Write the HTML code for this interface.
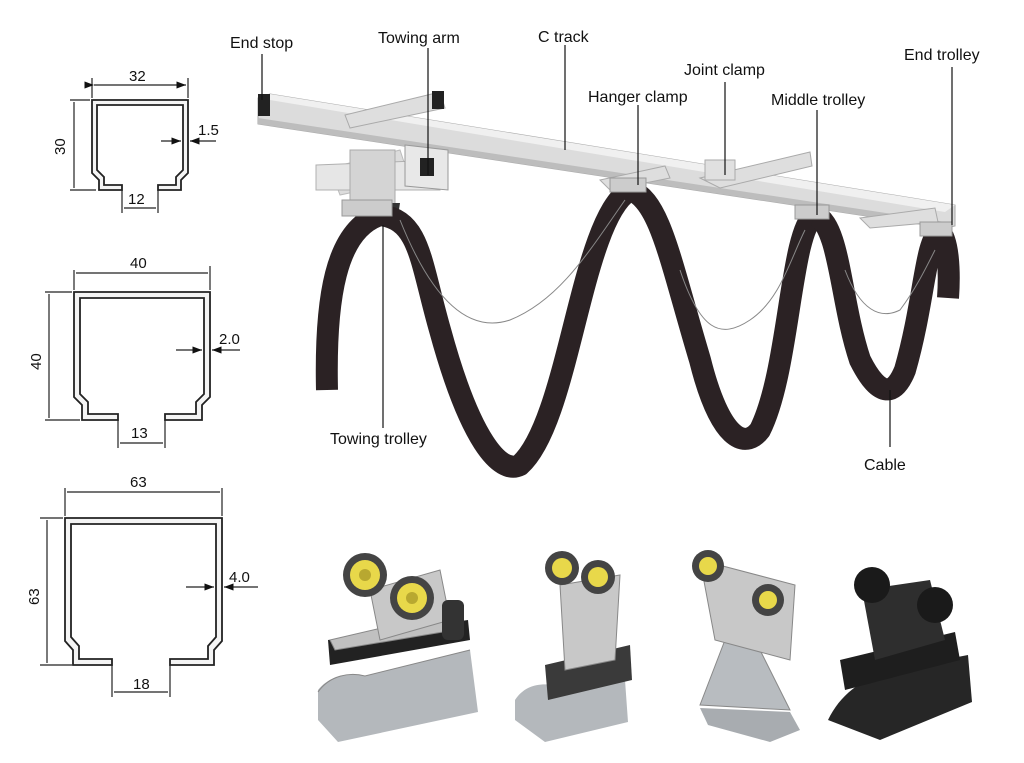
<!DOCTYPE html>
<html><head><meta charset="utf-8"><style>
body{margin:0;background:#fff}
svg{display:block}
text{font-family:"Liberation Sans",sans-serif;fill:#111}
</style></head><body>
<svg width="1024" height="763" viewBox="0 0 1024 763">
<defs>
<marker id="a" markerWidth="8" markerHeight="6" refX="8" refY="3" orient="auto"><path d="M0,0L8,3L0,6Z" fill="#111"/></marker>
</defs>
<g fill="#f4f4f4" stroke="#222" stroke-width="1.8">
<path d="M122,190 H99 V180 L92,173 V100 H188 V173 L181,180 V190 H158 V185 H176 V177 L183,170 V105 H97 V170 L104,177 V185 H122 Z"/>
<path d="M118,420 H82 V405 L74,397 V292 H210 V397 L202,405 V420 H165 V414 H196 V402 L204,394 V298 H80 V394 L88,402 V414 H118 Z"/>
<path d="M112,665 H73 V650 L65,641 V518 H222 V641 L214,650 V665 H170 V659 H208 V646 L216,637 V524 H71 V637 L79,646 V659 H112 Z"/>
</g>
<g stroke="#222" stroke-width="1.2" fill="none">
<line x1="92" y1="78" x2="92" y2="98"/><line x1="188" y1="78" x2="188" y2="98"/>
<line x1="94" y1="85" x2="186" y2="85" marker-end="url(#a)" marker-start="url(#a)"/>
<line x1="70" y1="100" x2="90" y2="100"/><line x1="70" y1="190" x2="96" y2="190"/>
<line x1="74" y1="102" x2="74" y2="188"/>
<line x1="122" y1="190" x2="122" y2="213"/><line x1="158" y1="190" x2="158" y2="213"/>
<line x1="124" y1="208" x2="156" y2="208"/>
<line x1="161" y1="141" x2="181" y2="141" marker-end="url(#a)"/><line x1="216" y1="141" x2="190" y2="141" marker-end="url(#a)"/>
<line x1="74" y1="270" x2="74" y2="290"/><line x1="210" y1="266" x2="210" y2="290"/>
<line x1="76" y1="273" x2="208" y2="273"/>
<line x1="45" y1="292" x2="72" y2="292"/><line x1="45" y1="420" x2="80" y2="420"/>
<line x1="49" y1="294" x2="49" y2="418"/>
<line x1="118" y1="420" x2="118" y2="448"/><line x1="165" y1="420" x2="165" y2="448"/>
<line x1="120" y1="443" x2="163" y2="443"/>
<line x1="176" y1="350" x2="202" y2="350" marker-end="url(#a)"/><line x1="240" y1="350" x2="212" y2="350" marker-end="url(#a)"/>
<line x1="65" y1="488" x2="65" y2="516"/><line x1="222" y1="488" x2="222" y2="516"/>
<line x1="67" y1="492" x2="220" y2="492"/>
<line x1="40" y1="518" x2="63" y2="518"/><line x1="40" y1="665" x2="72" y2="665"/>
<line x1="47" y1="520" x2="47" y2="663"/>
<line x1="112" y1="665" x2="112" y2="697"/><line x1="170" y1="665" x2="170" y2="697"/>
<line x1="114" y1="692" x2="168" y2="692"/>
<line x1="186" y1="587" x2="214" y2="587" marker-end="url(#a)"/><line x1="258" y1="587" x2="224" y2="587" marker-end="url(#a)"/>
</g>
<g font-size="15">
<text x="129" y="81">32</text><text x="65" y="155" transform="rotate(-90 65 155)">30</text>
<text x="128" y="204">12</text><text x="198" y="135">1.5</text>
<text x="130" y="268">40</text><text x="41" y="370" transform="rotate(-90 41 370)">40</text>
<text x="131" y="438">13</text><text x="219" y="344">2.0</text>
<text x="130" y="487">63</text><text x="39" y="605" transform="rotate(-90 39 605)">63</text>
<text x="133" y="689">18</text><text x="229" y="582">4.0</text>
</g>
<g>
<polygon points="330,168 400,150 410,180 340,195" fill="#dcdcdc" stroke="#bbb"/>
<polygon points="316,165 440,160 440,190 316,190" fill="#e6e6e6" stroke="#b0b0b0"/>
<polygon points="350,150 395,150 395,208 350,208" fill="#d4d4d4" stroke="#aaa"/>
<polygon points="342,203 400,203 398,216 345,216" fill="#333"/>
<polygon points="258,98 270,94 955,205 955,226 945,228 258,124" fill="#dcdcdc" stroke="#aaa"/>
<polygon points="258,98 270,94 955,205 945,212" fill="#f0f0f0"/>
<polygon points="258,118 945,222 945,228 258,124" fill="#bdbdbd"/>
<rect x="258" y="94" width="12" height="22" fill="#222"/>
<polygon points="345,115 440,92 445,108 350,128" fill="#dedede" stroke="#aaa"/>
<rect x="432" y="91" width="12" height="18" fill="#222"/>
<polygon points="405,145 448,150 448,190 405,186" fill="#e8e8e8" stroke="#999"/>
<rect x="420" y="158" width="14" height="18" fill="#222"/>
<polygon points="600,180 665,166 670,178 610,190" fill="#dedede" stroke="#aaa"/>
<polygon points="700,178 810,152 812,166 720,188" fill="#dedede" stroke="#aaa"/>
<polygon points="860,218 935,208 938,222 870,228" fill="#dedede" stroke="#aaa"/>
<rect x="705" y="160" width="30" height="20" fill="#e0e0e0" stroke="#aaa"/>
</g>
<g fill="none" stroke="#2b2224" stroke-width="22" stroke-linecap="butt">
<path d="M327,390 C325,300 335,230 380,215 C420,220 420,260 440,330 C470,440 500,475 520,465 C570,420 580,220 630,190"/>
<path d="M630,190 C660,200 670,260 700,360 C720,440 745,450 760,430 C790,370 790,230 815,215"/>
<path d="M815,215 C840,225 840,300 860,360 C880,400 895,395 905,370 C925,300 925,240 940,232"/>
<path d="M940,232 C948,240 950,270 948,298"/>
</g>
<g fill="none" stroke="#888" stroke-width="1">
<path d="M400,220 C440,320 480,330 510,320 C560,300 590,250 625,200"/>
<path d="M680,270 C700,330 720,340 750,320 C780,300 790,260 805,230"/>
<path d="M845,270 C860,310 880,320 900,310 C915,290 925,270 935,250"/>
</g>
<g fill="#ccc" stroke="#999"><rect x="610" y="178" width="36" height="14"/><rect x="795" y="205" width="34" height="14"/><rect x="920" y="222" width="32" height="14"/><rect x="342" y="200" width="50" height="16"/></g>
<g stroke="#111" stroke-width="1.2">
<line x1="262" y1="54" x2="262" y2="100"/><line x1="428" y1="48" x2="428" y2="175"/>
<line x1="565" y1="45" x2="565" y2="150"/><line x1="638" y1="105" x2="638" y2="185"/>
<line x1="725" y1="82" x2="725" y2="175"/><line x1="817" y1="110" x2="817" y2="215"/>
<line x1="952" y1="67" x2="952" y2="225"/><line x1="383" y1="225" x2="383" y2="428"/>
<line x1="890" y1="390" x2="890" y2="447"/>
</g>
<g font-size="16">
<text x="230" y="48">End stop</text><text x="378" y="43">Towing arm</text>
<text x="538" y="42">C track</text><text x="588" y="102">Hanger clamp</text>
<text x="684" y="75">Joint clamp</text><text x="771" y="105">Middle trolley</text>
<text x="904" y="60">End trolley</text><text x="330" y="444">Towing trolley</text>
<text x="864" y="470">Cable</text>
</g>
<g>
<path d="M318,720 L318,690 C330,675 350,672 365,676 L470,650 L478,712 L338,742 Z" fill="#b4b8bc"/>
<path d="M318,692 C330,675 350,672 365,676 L470,650" fill="none" stroke="#888"/>
<polygon points="328,640 468,620 470,640 330,665" fill="#222"/>
<polygon points="330,640 450,612 455,630 335,650" fill="#c0c0c0" stroke="#888"/>
<polygon points="370,590 440,570 450,620 380,640" fill="#c8c8c8" stroke="#888"/>
<circle cx="365" cy="575" r="22" fill="#444"/><circle cx="365" cy="575" r="15" fill="#e8d84a"/><circle cx="365" cy="575" r="6" fill="#b8a830"/>
<circle cx="412" cy="598" r="22" fill="#444"/><circle cx="412" cy="598" r="15" fill="#e8d84a"/><circle cx="412" cy="598" r="6" fill="#b8a830"/>
<rect x="442" y="600" width="22" height="40" rx="6" fill="#333"/>
<path d="M515,720 L515,700 C525,685 540,682 560,686 L625,680 L628,722 L545,742 Z" fill="#b4b8bc"/>
<polygon points="545,665 630,645 632,680 548,700" fill="#3a3a3a"/>
<polygon points="560,585 620,575 615,660 565,670" fill="#c8c8c8" stroke="#888"/>
<circle cx="562" cy="568" r="17" fill="#444"/><circle cx="562" cy="568" r="10" fill="#e8d84a"/>
<circle cx="598" cy="577" r="17" fill="#444"/><circle cx="598" cy="577" r="10" fill="#e8d84a"/>
<polygon points="725,640 755,640 790,710 700,705" fill="#b8bcc0" stroke="#888"/>
<path d="M700,708 L790,712 L800,730 L770,742 L708,725 Z" fill="#a8acb0"/>
<polygon points="700,560 795,585 790,660 715,640" fill="#c8c8c8" stroke="#888"/>
<circle cx="708" cy="566" r="16" fill="#444"/><circle cx="708" cy="566" r="9" fill="#e8d84a"/>
<circle cx="768" cy="600" r="16" fill="#444"/><circle cx="768" cy="600" r="9" fill="#e8d84a"/>
<path d="M828,720 C840,695 860,680 890,670 L968,655 L972,702 L880,740 Z" fill="#262626"/>
<polygon points="840,660 955,632 960,660 845,690" fill="#1e1e1e"/>
<polygon points="862,590 930,580 945,640 875,660" fill="#2e2e2e"/>
<circle cx="872" cy="585" r="18" fill="#1a1a1a"/><circle cx="935" cy="605" r="18" fill="#1a1a1a"/>
</g>
</svg>
</body></html>
